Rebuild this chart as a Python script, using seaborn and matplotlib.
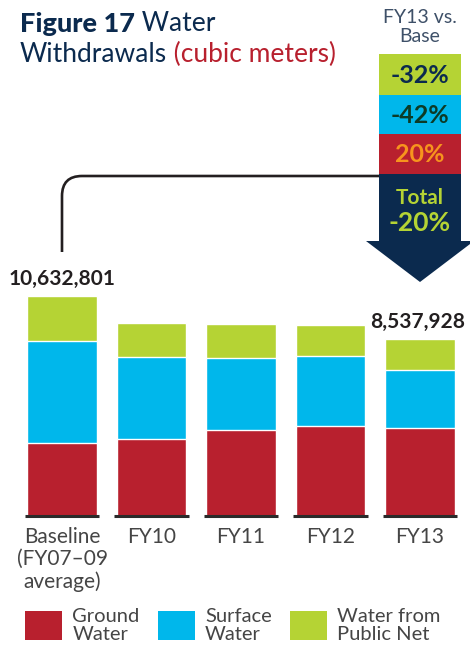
import numpy as np
import pandas as pd
import seaborn as sns
import matplotlib.pyplot as plt
from matplotlib.patches import Rectangle, Polygon, Patch, PathPatch
from matplotlib.path import Path

# dados (m3)
categories = ['Baseline\n(FY07–09\naverage)', 'FY10', 'FY11', 'FY12', 'FY13']
ground = [3518000, 3712000, 4148000, 4341000, 4244000]
surface = [4936000, 3969000, 3485000, 3388000, 2807000]
public_net = [2178801, 1645000, 1645000, 1500000, 1486928]
series_names = ['Ground\nWater', 'Surface\nWater', 'Water from\nPublic Net']
change_labels = ['-32%', '-42%', '20%']
total_change = 'Total\n-20%'

RED = '#B8202E'
BLUE = '#00B7EB'
GREEN = '#B5D334'
NAVY = '#0B2A4E'

sns.set_style('white')
plt.rcParams['font.family'] = ['Lato', 'DejaVu Sans']

df = pd.DataFrame({'cat': categories, 'ground': ground,
                   'surface': surface, 'public': public_net})
df['gs'] = df['ground'] + df['surface']
df['total'] = df['gs'] + df['public']

fig = plt.figure(figsize=(4.7, 6.5), dpi=100)

# camada de anotacoes em pixels
ov = fig.add_axes([0, 0, 1, 1])
ov.set_xlim(0, 470)
ov.set_ylim(650, 0)
ov.set_axis_off()

# -------------------------------
# barras empilhadas
# -------------------------------
ax = fig.add_axes([17.25 / 470, 1 - 515.7 / 650, 447.5 / 470, 248 / 650])
ax.patch.set_alpha(0)
sns.barplot(data=df, x='cat', y='total', color=GREEN, width=0.78,
            saturation=1, order=categories, ax=ax)
sns.barplot(data=df, x='cat', y='gs', color=BLUE, width=0.78,
            saturation=1, order=categories, ax=ax)
sns.barplot(data=df, x='cat', y='ground', color=RED, width=0.78,
            saturation=1, order=categories, ax=ax)
ax.set_xlim(-0.5, 4.5)
ax.set_ylim(0, 12000000)
ax.set_xlabel('')
ax.set_ylabel('')
ax.set_yticks([])
sns.despine(ax=ax, left=True, bottom=True)
ax.tick_params(axis='x', length=0, pad=8, labelsize=15, labelcolor='#454545')
for lbl in ax.get_xticklabels():
    lbl.set_linespacing(1.15)

xs = np.arange(len(categories))
ax.hlines([0] * len(xs), xs - 0.415, xs + 0.415, colors='#2a2a2a',
          linewidth=2.2, clip_on=False)

for i in [0, len(categories) - 1]:
    ax.annotate(f"{df['total'][i]:,}", xy=(i, df['total'][i]),
                xytext=(0 if i == 0 else -2, 8), textcoords='offset points',
                ha='center', va='baseline', fontsize=15, fontweight='bold',
                color='#231f20')

# -------------------------------
# titulo
# -------------------------------
t1 = ov.text(20, 32, 'Figure 17', fontsize=19.5, fontweight='black',
             color=NAVY, va='baseline', ha='left')
ov.annotate(' Water', xy=(1, 0), xycoords=t1, fontsize=19, color=NAVY,
            va='bottom', ha='left')
t2 = ov.text(20, 62, 'Withdrawals', fontsize=19, color=NAVY,
             va='baseline', ha='left')
ov.annotate(' (cubic meters)', xy=(1, 0), xycoords=t2, fontsize=19,
            color=RED, va='bottom', ha='left')

# -------------------------------
# seta de variacao
# -------------------------------
ov.text(420, 27, 'FY13 vs.\nBase', ha='center', va='center', fontsize=14,
        color='#3E5068', linespacing=1.1)
block_colors = [GREEN, BLUE, RED]
block_text = [NAVY, '#0C3B27', '#F7941D']
edges = [54, 95, 134, 174]
for k in range(3):
    ov.add_patch(Rectangle((379, edges[k]), 82, edges[k + 1] - edges[k],
                           facecolor=block_colors[k], edgecolor='none'))
    ov.text(420, (edges[k] + edges[k + 1]) / 2 + 1, change_labels[k],
            ha='center', va='center', fontsize=18, fontweight='bold',
            color=block_text[k])
ov.add_patch(Polygon([(379, 174), (461, 174), (461, 241), (474, 241),
                      (420, 282), (366, 241), (379, 241)],
                     closed=True, facecolor=NAVY, edgecolor='none'))
tot, pct = total_change.split('\n')
ov.text(420, 198, tot, ha='center', va='center', fontsize=15,
        fontweight='bold', color=GREEN)
ov.text(420, 223, pct, ha='center', va='center', fontsize=19,
        fontweight='bold', color=GREEN)

# conector
path = Path([(62, 252), (62, 196), (62, 176), (82, 176), (379, 176)],
            [Path.MOVETO, Path.LINETO, Path.CURVE3, Path.CURVE3, Path.LINETO])
ov.add_patch(PathPatch(path, facecolor='none', edgecolor='#231f20',
                       linewidth=1.9))

# -------------------------------
# legenda
# -------------------------------
handles = [Patch(facecolor=c, edgecolor='none') for c in [RED, BLUE, GREEN]]
leg = fig.legend(handles, series_names, ncol=3, loc='upper left',
                 bbox_to_anchor=(25 / 470, 1 - 608 / 650), frameon=False,
                 fontsize=14.5, handlelength=1.85, handleheight=1.85,
                 handletextpad=0.5, columnspacing=0.9, borderpad=0,
                 borderaxespad=0)
for t in leg.get_texts():
    t.set_color('#454545')
    t.set_linespacing(1.05)

fig.savefig('out.png', dpi=100)
